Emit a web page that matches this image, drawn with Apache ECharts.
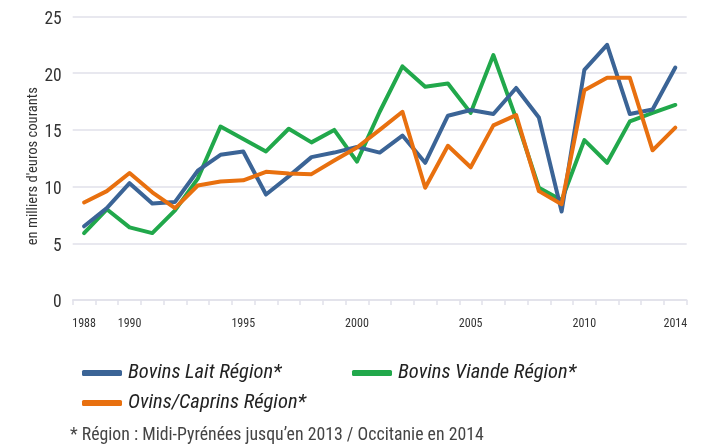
<!DOCTYPE html>
<html>
<head>
<meta charset="utf-8">
<script src="https://cdn.jsdelivr.net/npm/echarts@6/dist/echarts.min.js"></script>
<style>
html,body{margin:0;padding:0;background:#fff;}
#chart{width:724px;height:445px;}
</style>
</head>
<body>
<div id="chart"></div>
<script>
const years = [];
for (let y = 1988; y <= 2014; y++) years.push(String(y));
const shownYearLabels = ['1988','1990','1995','2000','2005','2010','2014'];
const yTicks = [0, 5, 10, 15, 20, 25];

const bovinsLait = [6.5, 8.1, 10.3, 8.5, 8.65, 11.4, 12.8, 13.1, 9.3, 10.9, 12.6, 13.0, 13.5, 13.0, 14.5, 12.1, 16.25, 16.75, 16.4, 18.7, 16.1, 7.8, 20.3, 22.5, 16.4, 16.8, 20.5];
const bovinsViande = [5.9, 8.0, 6.4, 5.9, 7.9, 10.7, 15.3, 14.2, 13.1, 15.1, 13.9, 15.0, 12.2, 16.6, 20.6, 18.8, 19.1, 16.5, 21.6, 16.0, 9.9, 8.8, 14.1, 12.1, 15.75, 16.5, 17.2];
const ovinsCaprins = [8.6, 9.6, 11.2, 9.5, 8.1, 10.1, 10.45, 10.55, 11.3, 11.15, 11.1, 12.3, 13.45, 15.0, 16.6, 9.9, 13.6, 11.7, 15.4, 16.3, 9.6, 8.45, 18.5, 19.6, 19.6, 13.2, 15.2];

const names = ['Bovins Lait Région*', 'Bovins Viande Région*', 'Ovins/Caprins Région*'];
const colors = ['#3b6496', '#21a84b', '#e8700f'];

const FONT = '"Roboto Condensed", "DejaVu Sans Condensed", "Liberation Sans", sans-serif';
const GRIDC = '#e1e1ea';

const chart = echarts.init(document.getElementById('chart'), null, {renderer: 'canvas'});

function mkLegend(name, left, top) {
  return {
    data: [name], left: left, top: top, orient: 'horizontal',
    icon: 'roundRect', itemWidth: 40, itemHeight: 6,
    textStyle: {fontFamily: FONT, fontStyle: 'italic', fontSize: 20.5, color: '#222', padding: [0, 0, 8, 1]},
    selectedMode: false
  };
}

const option = {
  animation: false,
  backgroundColor: '#fff',
  color: colors,
  grid: {left: 72.7, right: 37.3, top: 16.5, bottom: 145},
  legend: [mkLegend(names[0], 77, 358), mkLegend(names[1], 347, 358), mkLegend(names[2], 77, 388)],
  graphic: [{
    type: 'text', left: 70, top: 427,
    style: {text: '* Région : Midi-Pyrénées jusqu\u2019en 2013 / Occitanie en 2014', font: '17.8px ' + FONT, fill: '#444'}
  }],
  xAxis: {
    type: 'category', data: years, boundaryGap: true,
    axisLine: {show: true, lineStyle: {color: GRIDC, width: 1.5}},
    axisTick: {show: true, interval: 0, length: 5, lineStyle: {color: GRIDC, width: 1.5}},
    axisLabel: {
      interval: (i, v) => shownYearLabels.indexOf(v) >= 0,
      fontFamily: FONT, fontSize: 12, color: '#333', margin: 18
    },
    splitLine: {show: false}
  },
  yAxis: {
    type: 'value', min: yTicks[0], max: yTicks[yTicks.length - 1], interval: 5,
    name: 'en milliers d\'euros courants', nameLocation: 'middle', nameGap: 32, nameRotate: 90,
    nameMoveOverlap: false,
    nameTextStyle: {fontFamily: FONT, fontSize: 14.6, color: '#333', padding: [0, 16, 0, 0]},
    axisLine: {show: false}, axisTick: {show: false},
    axisLabel: {
      fontFamily: FONT, fontSize: 17.5, color: '#333', margin: 11, verticalAlign: 'middle',
      formatter: '{a|{value}}',
      rich: {a: {fontFamily: FONT, fontSize: 17.5, color: '#333', padding: [6, 0, 0, 0]}}
    },
    splitLine: {lineStyle: {color: GRIDC, width: 1.5}}
  },
  series: [
    {name: names[0], type: 'line', data: bovinsLait, showSymbol: false, lineStyle: {width: 4, cap: 'round', join: 'round'}, z: 3},
    {name: names[1], type: 'line', data: bovinsViande, showSymbol: false, lineStyle: {width: 4, cap: 'round', join: 'round'}, z: 2},
    {name: names[2], type: 'line', data: ovinsCaprins, showSymbol: false, lineStyle: {width: 4, cap: 'round', join: 'round'}, z: 4}
  ]
};
chart.setOption(option);
</script>
</body>
</html>
